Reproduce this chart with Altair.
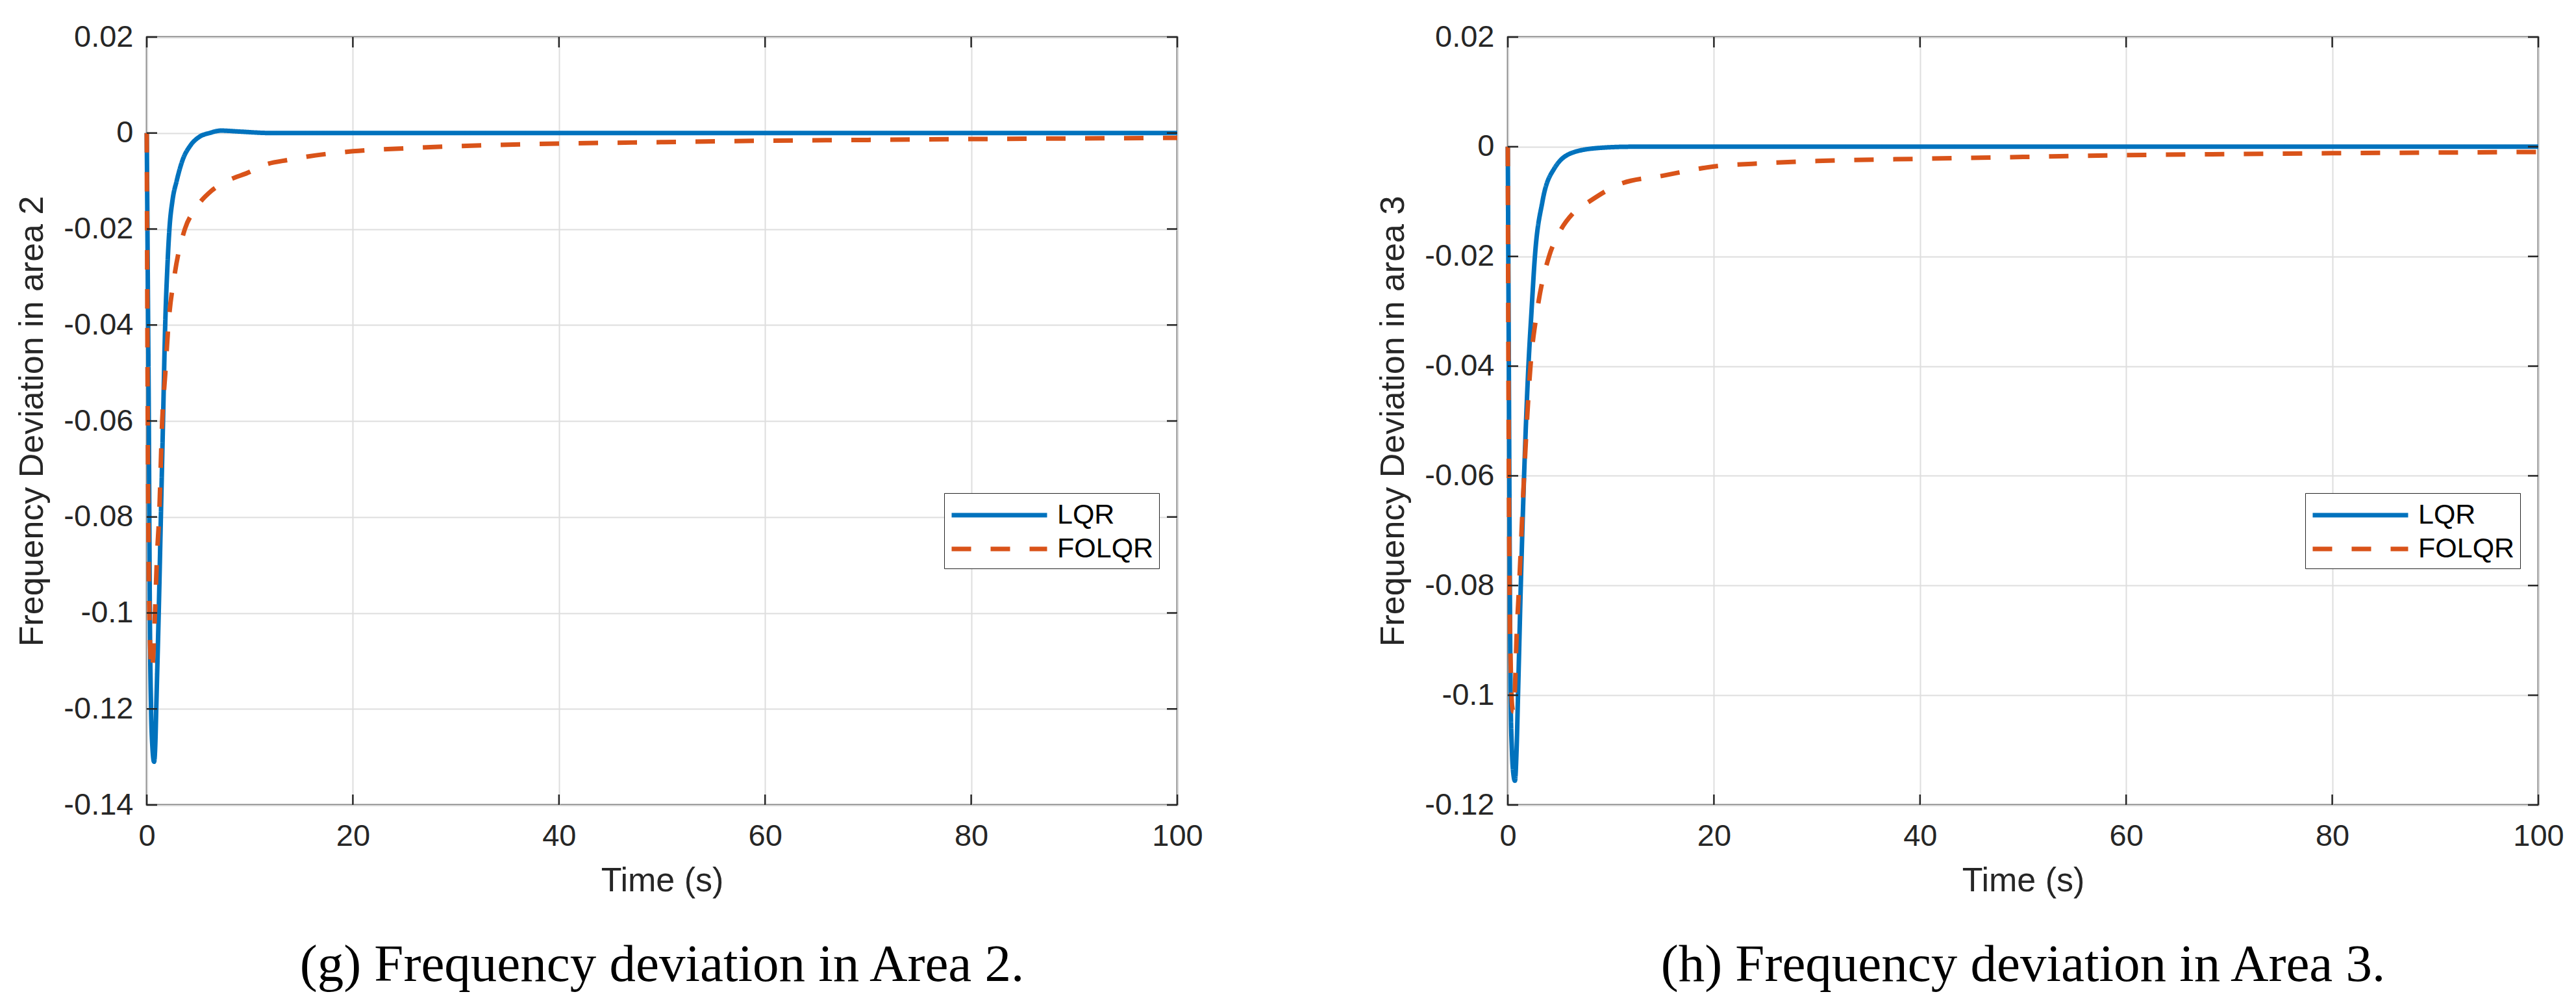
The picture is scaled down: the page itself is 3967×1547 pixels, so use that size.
import math
import altair as alt
import pandas as pd

# ---------------- data ----------------
# Panel (g): frequency deviation in area 2
T_LQR_G = [0, 0.1, 0.2, 0.3, 0.42, 0.55, 0.71, 0.85, 0.92, 1.16, 1.37, 1.58, 1.79, 2.0, 2.2,
           2.5, 2.9, 3.5, 4.2, 5.1, 6.1, 7.2, 9.0, 12.0, 20, 40, 60, 80, 100]
F_LQR_G = [0, -0.03, -0.06, -0.10, -0.12, -0.128, -0.131, -0.126, -0.12, -0.10, -0.08, -0.06, -0.04,
           -0.028, -0.02, -0.014, -0.01, -0.0055, -0.0027, -0.0008, 0.0, 0.0005, 0.0003, 0.0, 0, 0, 0, 0, 0]
T_FOLQR_G = [0, 0.06, 0.15, 0.25, 0.35, 0.46, 0.6, 0.8, 1.0, 1.2, 1.5, 1.8, 2.1, 2.67, 3.7, 4.66,
             6.3, 7.8, 10.1, 11.0, 14.0, 20, 25, 30, 40, 50, 60, 70, 80, 90, 100]
F_FOLQR_G = [0, -0.04, -0.08, -0.10, -0.108, -0.112, -0.11, -0.10, -0.088, -0.08, -0.06, -0.05, -0.04,
             -0.03, -0.02, -0.016, -0.012, -0.01, -0.008, -0.007, -0.0055, -0.0038, -0.0032, -0.00275,
             -0.0022, -0.0019, -0.0016, -0.00144, -0.00126, -0.00113, -0.001]

# Panel (h): frequency deviation in area 3
T_LQR_H = [0, 0.1, 0.2, 0.27, 0.4, 0.55, 0.69, 0.85, 0.99, 1.26, 1.58, 2.0, 2.3, 2.63, 3.36, 4.5,
           6.4, 9.0, 12.0, 20, 40, 60, 80, 100]
F_LQR_H = [0, -0.04, -0.08, -0.10, -0.11, -0.1145, -0.1156, -0.11, -0.10, -0.08, -0.06, -0.04, -0.03,
           -0.02, -0.01, -0.004, -0.001, -0.0002, 0.0, 0, 0, 0, 0, 0]
T_FOLQR_H = [0, 0.06, 0.17, 0.3, 0.42, 0.55, 0.67, 0.84, 1.1, 1.58, 2.2, 2.84, 4.0, 4.9, 6.4, 7.9,
             10.9, 15, 20, 25, 30, 40, 50, 60, 70, 80, 90, 100]
F_FOLQR_H = [0, -0.04, -0.08, -0.096, -0.102, -0.103, -0.10, -0.09, -0.08, -0.06, -0.04, -0.03, -0.02,
             -0.016, -0.012, -0.01, -0.0068, -0.0053, -0.0036, -0.0030, -0.0026, -0.0022, -0.00186,
             -0.00154, -0.00134, -0.00118, -0.00107, -0.00095]

X_TICKS = [0, 20, 40, 60, 80, 100]
Y_TICKS_G = [0.02, 0, -0.02, -0.04, -0.06, -0.08, -0.1, -0.12, -0.14]
Y_TICKS_H = [0.02, 0, -0.02, -0.04, -0.06, -0.08, -0.1, -0.12]
SERIES = ["LQR", "FOLQR"]
COLORS = ["#0072BD", "#D95319"]
X_TITLE = "Time (s)"
Y_TITLE_G = "Frequency Deviation in area 2"
Y_TITLE_H = "Frequency Deviation in area 3"
CAPTION_G = "(g) Frequency deviation in Area 2."
CAPTION_H = "(h) Frequency deviation in Area 3."

# ---------------- style ----------------
W, H = 1587, 1182
TICK = 16
AXC = "#262626"
SANS = "Liberation Sans"
SERIF = "Liberation Serif"
LW = 7

# legend sample line: 147 px long, drawn with a custom path so the row height stays small
SYM_SIZE = 2025
_r = math.sqrt(SYM_SIZE) / 2
_len = 147 / _r
SYM_PATH = "M-1,0H%.3f" % (_len - 1)
LEG_PAD = 8

legend_kw = dict(
    title=None, orient="none", legendX=1236 - LEG_PAD, legendY=702,
    symbolType=SYM_PATH, symbolSize=SYM_SIZE, symbolStrokeWidth=LW,
    labelFont=SANS, labelFontSize=43, labelColor="black",
    labelOffset=147 + 12 - math.sqrt(SYM_SIZE),
    fillColor="white", strokeColor=AXC, padding=LEG_PAD, rowPadding=4,
)
# use a legend border width if this Vega-Lite accepts it
try:
    _t = alt.Chart(pd.DataFrame({"a": ["x"]})).mark_point().encode(
        color=alt.Color("a:N", legend=alt.Legend(strokeWidth=2.5)))
    _t.to_dict()
    legend_kw["strokeWidth"] = 2.5
except Exception:
    pass


def panel(tl, fl, tf, ff, yticks, ytitle, caption):
    df = pd.concat([
        pd.DataFrame({"t": tl, "f": fl, "series": "LQR"}),
        pd.DataFrame({"t": tf, "f": ff, "series": "FOLQR"}),
    ], ignore_index=True)
    xs = alt.Scale(domain=[0, 100], nice=False, zero=False)
    ys = alt.Scale(domain=[min(yticks), max(yticks)], nice=False, zero=False)
    xaxis = alt.Axis(values=X_TICKS, title=X_TITLE, grid=True, ticks=False, tickSize=0,
                     domain=False, labelFlush=False, labelPadding=25, titlePadding=20)
    yaxis = alt.Axis(values=yticks, title=ytitle, grid=True, ticks=False, tickSize=0,
                     domain=False, labelPadding=21, titlePadding=21,
                     labelExpr="(datum.value < 0 ? '-' : '') + format(abs(datum.value), '~g')")
    color = alt.Color("series:N", scale=alt.Scale(domain=SERIES, range=COLORS),
                      legend=alt.Legend(**legend_kw))
    dash = alt.StrokeDash("series:N", scale=alt.Scale(domain=SERIES, range=[[1, 0], [30, 30]]),
                          legend=alt.Legend(**legend_kw))

    def line(name):
        return alt.Chart(df).transform_filter(alt.datum.series == name).mark_line(
            strokeWidth=LW, interpolate="monotone", strokeCap="butt"
        ).encode(
            x=alt.X("t:Q", scale=xs, axis=xaxis),
            y=alt.Y("f:Q", scale=ys, axis=yaxis),
            color=color, strokeDash=dash,
        )

    ytdf = pd.DataFrame({"f": yticks})
    xtdf = pd.DataFrame({"t": X_TICKS})
    rule = dict(color=AXC, strokeWidth=2.5)
    yl = alt.Chart(ytdf).mark_rule(**rule).encode(
        y=alt.Y("f:Q", scale=ys, axis=yaxis), x=alt.value(0), x2=alt.value(TICK))
    yr = alt.Chart(ytdf).mark_rule(**rule).encode(
        y=alt.Y("f:Q", scale=ys, axis=yaxis), x=alt.value(W - TICK), x2=alt.value(W))
    xb = alt.Chart(xtdf).mark_rule(**rule).encode(
        x=alt.X("t:Q", scale=xs, axis=xaxis), y=alt.value(H - TICK), y2=alt.value(H))
    xt = alt.Chart(xtdf).mark_rule(**rule).encode(
        x=alt.X("t:Q", scale=xs, axis=xaxis), y=alt.value(0), y2=alt.value(TICK))

    return alt.layer(line("LQR"), line("FOLQR"), yl, yr, xb, xt).properties(
        width=W, height=H,
        title=alt.TitleParams(text=caption, orient="bottom", anchor="middle", frame="group",
                              font=SERIF, fontSize=81, fontWeight="normal", color="black",
                              offset=65),
    )


pg = panel(T_LQR_G, F_LQR_G, T_FOLQR_G, F_FOLQR_G, Y_TICKS_G, Y_TITLE_G, CAPTION_G)
ph = panel(T_LQR_H, F_LQR_H, T_FOLQR_H, F_FOLQR_H, Y_TICKS_H, Y_TITLE_H, CAPTION_H)

chart = alt.hconcat(pg, ph, spacing=264).resolve_scale(
    color="independent", strokeDash="independent"
).resolve_legend(
    color="independent", strokeDash="independent"
).properties(
    padding={"left": 14, "top": 23, "right": 5, "bottom": 5},
    background="white",
).configure_view(
    stroke=AXC, strokeWidth=2.5,
).configure_axis(
    labelFont=SANS, labelFontSize=47, labelColor=AXC,
    titleFont=SANS, titleFontSize=52, titleFontWeight="normal", titleColor=AXC,
    gridColor="#dedede", gridWidth=2, gridOpacity=1,
)

chart.save("out.html", embed_options={"renderer": "svg", "actions": False})
